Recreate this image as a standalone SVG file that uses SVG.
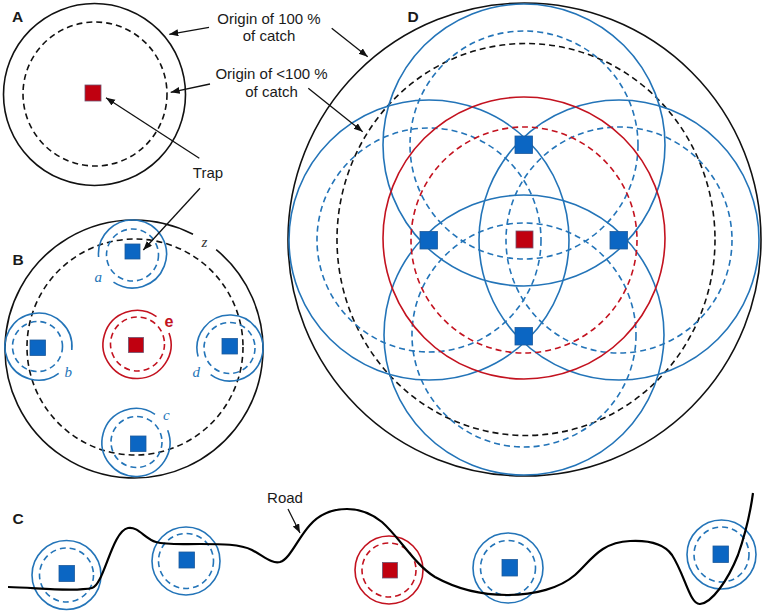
<svg xmlns="http://www.w3.org/2000/svg" width="764" height="612" viewBox="0 0 764 612">
<defs>
<style>
.bk{fill:none;stroke:#111;stroke-width:1.6}
.bkd{fill:none;stroke:#111;stroke-width:1.6;stroke-dasharray:6 4}
.bl{fill:none;stroke:#2374b8;stroke-width:1.6}
.bld{fill:none;stroke:#2374b8;stroke-width:1.6;stroke-dasharray:6 4}
.rd{fill:none;stroke:#c3121f;stroke-width:1.6}
.rdd{fill:none;stroke:#c3121f;stroke-width:1.6;stroke-dasharray:6 4}
.sqb{fill:#0b66c3;stroke:#1d5a9c;stroke-width:0.8}
.sqr{fill:#c00010;stroke:#6e5470;stroke-width:0.8}
.t{font-family:"Liberation Sans",Arial,sans-serif;font-size:15px;fill:#1a1a1a}
.pl{font-family:"Liberation Sans",Arial,sans-serif;font-size:15.5px;font-weight:bold;fill:#1a1a1a}
.it{font-family:"Liberation Serif","Times New Roman",serif;font-size:15px;font-style:italic;fill:#2374b8}
.arr{stroke:#111;stroke-width:1.3;fill:none;marker-end:url(#ah)}
.road{fill:none;stroke:#000;stroke-width:2.2}
</style>
<marker id="ah" markerUnits="userSpaceOnUse" markerWidth="10" markerHeight="8" refX="9" refY="3.5" orient="auto">
<path d="M0,0 L9,3.5 L0,7 z" fill="#111"/>
</marker>
</defs>
<rect width="764" height="612" fill="#fff"/>

<g id="panelA">
<text class="pl" x="12" y="22">A</text>
<circle class="bk" cx="94.5" cy="94.5" r="91"/>
<circle class="bkd" cx="95" cy="94" r="72"/>
<rect class="sqr" x="85" y="85" width="16" height="16"/>
</g>

<g id="labels">
<text class="t" x="269" y="23.5" text-anchor="middle">Origin of 100 %</text>
<text class="t" x="269" y="40.5" text-anchor="middle">of catch</text>
<text class="t" x="271.5" y="79" text-anchor="middle">Origin of &lt;100 %</text>
<text class="t" x="271.5" y="96.5" text-anchor="middle">of catch</text>
<text class="t" x="208" y="177.5" text-anchor="middle">Trap</text>
<text class="t" x="285" y="502.5" text-anchor="middle">Road</text>
</g>

<g id="panelB">
<text class="pl" x="12.5" y="265">B</text>
<path class="bk" d="M216.2,249.6 A129,129 0 1 1 193.0,234.3"/>
<text x="201.5" y="246.5" style="font-family:'Liberation Serif',serif;font-size:15px;font-style:italic;fill:#333">z</text>
<circle class="bkd" cx="135" cy="347" r="108"/>
<g id="B_a">
<path class="bl" d="M98.6,257 A34,34 0 1 1 113.5,282.2"/>
<circle class="bld" cx="132.5" cy="255" r="26"/>
<rect class="sqb" x="125" y="244" width="15" height="15"/>
<text class="it" x="94.5" y="282">a</text>
</g>
<g id="B_b">
<path class="bl" d="M58.7,373.3 A33.5,33.5 0 1 1 71.8,350"/>
<circle class="bld" cx="37.5" cy="346.5" r="25"/>
<rect class="sqb" x="30" y="340" width="15.5" height="15.5"/>
<text class="it" x="64.5" y="377">b</text>
</g>
<g id="B_d">
<path class="bl" d="M198.1,356.5 A33,33 0 1 1 210.6,374.7"/>
<circle class="bld" cx="229.5" cy="348" r="25.5"/>
<rect class="sqb" x="222" y="338.5" width="15.5" height="15.5"/>
<text class="it" x="192.5" y="377">d</text>
</g>
<g id="B_c">
<path class="bl" d="M167.7,430.3 A34,34 0 1 1 155.0,414.3"/>
<circle class="bld" cx="136.5" cy="442" r="25.5"/>
<rect class="sqb" x="130.5" y="436" width="15.5" height="15.5"/>
<text class="it" x="163" y="420">c</text>
</g>
<g id="B_e">
<path class="rd" d="M169,332.9 A34,34 0 1 1 156.5,316.6"/>
<circle class="rdd" cx="137.5" cy="344" r="27"/>
<rect class="sqr" x="128.5" y="337.5" width="15" height="15"/>
<text x="164.5" y="327" style="font-family:'Liberation Sans',Arial,sans-serif;font-size:16px;font-weight:bold;fill:#c3121f">e</text>
</g>
</g>

<g id="panelD">
<text class="pl" x="407.5" y="22">D</text>
<circle class="bk" cx="524.5" cy="239.5" r="236.5"/>
<ellipse class="bkd" cx="526" cy="239.5" rx="189" ry="196"/>
<circle class="bl" cx="524" cy="145" r="141"/>
<circle class="bl" cx="524" cy="335" r="140"/>
<circle class="bl" cx="429" cy="240" r="140"/>
<circle class="bl" cx="619" cy="240" r="140"/>
<circle class="bld" cx="524" cy="145" r="114"/>
<circle class="bld" cx="524" cy="335" r="112"/>
<circle class="bld" cx="429" cy="240" r="112"/>
<circle class="bld" cx="619" cy="240" r="113"/>
<circle class="rd" cx="524" cy="238" r="141"/>
<circle class="rdd" cx="524" cy="240" r="113"/>
<rect class="sqb" x="515" y="136" width="17.5" height="17.5"/>
<rect class="sqb" x="515" y="327.5" width="17.5" height="17.5"/>
<rect class="sqb" x="420" y="231.5" width="17.5" height="17.5"/>
<rect class="sqb" x="610" y="231.5" width="17.5" height="17.5"/>
<rect class="sqr" x="516" y="231" width="17" height="17"/>
</g>

<g id="panelC">
<text class="pl" x="12.5" y="524">C</text>
<g id="C1">
<circle class="bl" cx="66.5" cy="575" r="34.5"/>
<circle class="bld" cx="66.5" cy="575" r="27"/>
<rect class="sqb" x="59" y="565.5" width="15.5" height="16"/>
</g>
<g id="C2">
<circle class="bl" cx="186" cy="561" r="34"/>
<circle class="bld" cx="186" cy="561" r="27.5"/>
<rect class="sqb" x="179" y="552" width="15.5" height="16"/>
</g>
<g id="C3">
<circle class="rd" cx="389" cy="570" r="34"/>
<circle class="rdd" cx="389" cy="570" r="27"/>
<rect class="sqr" x="382.5" y="562.5" width="15" height="15.5"/>
</g>
<g id="C4">
<circle class="bl" cx="508" cy="568" r="35"/>
<circle class="bld" cx="508" cy="568" r="27.5"/>
<rect class="sqb" x="502" y="559.5" width="15.5" height="16.5"/>
</g>
<g id="C5">
<circle class="bl" cx="721.5" cy="554.5" r="34.5"/>
<circle class="bld" cx="721.5" cy="554.5" r="27.5"/>
<rect class="sqb" x="713" y="546" width="15.5" height="16.5"/>
</g>
<path class="road" d="M8,587 C40,588 75,592 92,588 C104,585 112,531 128,528 C138,526 145,539 156,542 C166,545 180,544 200,544 C222,544 240,544 252,550 C265,557 272,564 280,562 C290,559 298,538 310,525 C318,516 330,509 347,509 C362,509 372,514 382,522 C400,538 415,565 435,577 C455,588 480,595 507,595 C535,595 560,588 575,575 C590,562 600,542 630,541 C650,540 665,545 672,555 C685,575 690,605 700,604 C712,603 728,580 738,555 C745,535 750,515 753,493"/>
</g>

<g id="connectors">
<line class="arr" x1="209" y1="27.3" x2="169.3" y2="34.3"/>
<line class="arr" x1="331.7" y1="28.3" x2="367.7" y2="56.7"/>
<line class="arr" x1="210" y1="84" x2="170.7" y2="92.3"/>
<line class="arr" x1="308.3" y1="88.3" x2="362.7" y2="131.7"/>
<line class="arr" x1="199.3" y1="158.3" x2="106" y2="97.7"/>
<line class="arr" x1="200" y1="188.3" x2="143.3" y2="250"/>
<line class="arr" x1="288" y1="509" x2="300" y2="533"/>
</g>
</svg>
